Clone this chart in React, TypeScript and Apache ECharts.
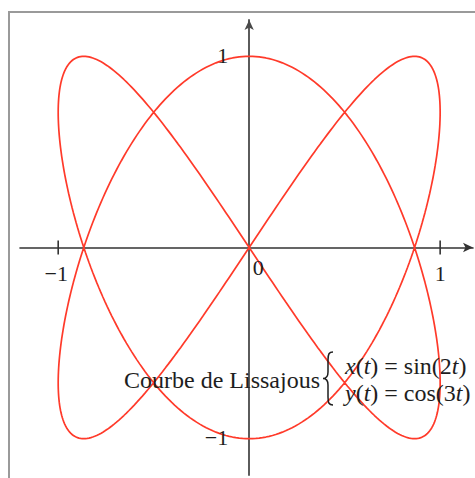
import React, { useEffect, useRef } from "react";
import * as echarts from "echarts";

// Lissajous curve parameters: x(t) = sin(2t), y(t) = cos(3t)
const xFrequency = 2;
const yFrequency = 3;
const sampleCount = 720;

// Axis ranges, tick marks and tick labels
const xRange = [-1.2, 1.172];
const yRange = [-1.19, 1.19];
const xTickValues = [-1, 1];
const xLabelValues = [-1, 0, 1];
const yLabelValues = [-1, 1];

// Annotation texts
const curveName = "Courbe de Lissajous";
const equationX = ["x", "sin", "2"];
const equationY = ["y", "cos", "3"];

const SERIF = "'Liberation Serif', 'DejaVu Serif', serif";
const CURVE_RED = "#ff3a2a";
const AXIS_COLOR = "#333333";
const TEXT_COLOR = "#1e1e1e";

const bracePath =
  "M10,0 C6,0 5,2 5,8 L5,20 C5,24 4,26.5 0,26.5 C4,26.5 5,29 5,33 L5,45 C5,51 6,53 10,53";
echarts.graphic.registerShape("brace", echarts.graphic.extendPath(bracePath, {}));

function buildCurve(): number[][] {
  const pts: number[][] = [];
  for (let i = 0; i <= sampleCount; i++) {
    const t = (2 * Math.PI * i) / sampleCount;
    pts.push([Math.sin(xFrequency * t), Math.cos(yFrequency * t)]);
  }
  return pts;
}

function minusSign(v: number): string {
  return v < 0 ? "\u2212" + Math.abs(v) : String(v);
}

function equationText(parts: string[]): string {
  const [v, fn, k] = parts;
  return `{i|${v}}{r|(}{i|t}{r|) = ${fn}(${k}}{i|t}{r|)}`;
}

export default function App() {
  const ref = useRef<HTMLDivElement>(null);

  useEffect(() => {
    if (!ref.current) return;
    const chart = echarts.init(ref.current, null, { renderer: "svg" });
    chart.setOption({
      animation: false,
      backgroundColor: "#ffffff",
      grid: {
        left: 20,
        right: 2,
        top: 20,
        bottom: 3,
        containLabel: false,
        outerBoundsMode: "none",
      },
      xAxis: {
        type: "value",
        min: xRange[0],
        max: xRange[1],
        splitLine: { show: false },
        axisLine: {
          onZero: true,
          symbol: ["none", "arrow"],
          symbolSize: [7, 10],
          lineStyle: { color: AXIS_COLOR, width: 1.6 },
        },
        axisTick: { show: false },
        axisLabel: { show: false },
      },
      yAxis: {
        type: "value",
        min: yRange[0],
        max: yRange[1],
        splitLine: { show: false },
        axisLine: {
          onZero: true,
          symbol: ["none", "arrow"],
          symbolSize: [7, 10],
          lineStyle: { color: "#4a4a4a", width: 1.8 },
        },
        axisTick: { show: false },
        axisLabel: { show: false },
      },
      series: [
        {
          type: "line",
          data: buildCurve(),
          showSymbol: false,
          smooth: false,
          clip: false,
          z: 5,
          lineStyle: { color: CURVE_RED, width: 1.7 },
        },
      ],
    });

    // Tick marks and tick labels placed through the cartesian scales
    const toPx = (x: number, y: number) =>
      chart.convertToPixel({ gridIndex: 0 }, [x, y]) as number[];
    const origin = toPx(0, 0);

    const tickMarks = xTickValues.map((v) => {
      const [px, py] = toPx(v, 0);
      return {
        type: "line",
        z: 4,
        shape: { x1: px, y1: py - 7, x2: px, y2: py + 7 },
        style: { stroke: AXIS_COLOR, lineWidth: 1.6 },
      };
    });

    const xLabels = xLabelValues.map((v) => {
      const [px, py] = toPx(v, 0);
      const isZero = v === 0;
      return {
        type: "text",
        z: 6,
        style: {
          text: minusSign(v),
          x: isZero ? px + 9 : px - (v < 0 ? 2 : 0),
          y: isZero ? py + 20 : py + 26,
          align: "center",
          textAlign: "center",
          verticalAlign: "middle",
          textVerticalAlign: "middle",
          fontFamily: SERIF,
          fontSize: 22,
          fill: TEXT_COLOR,
        },
      };
    });

    const yLabels = yLabelValues.map((v) => {
      const [, py] = toPx(0, v);
      return {
        type: "text",
        z: 6,
        style: {
          text: minusSign(v),
          x: origin[0] - 21,
          y: py - 1,
          align: "right",
          textAlign: "right",
          verticalAlign: "middle",
          textVerticalAlign: "middle",
          fontFamily: SERIF,
          fontSize: 22,
          fill: TEXT_COLOR,
        },
      };
    });

    const richStyles = {
      i: { fontFamily: SERIF, fontSize: 24, fontStyle: "italic", fill: TEXT_COLOR },
      r: { fontFamily: SERIF, fontSize: 24, fill: TEXT_COLOR },
    };

    chart.setOption({
      graphic: [
        {
          type: "rect",
          z: -10,
          shape: { x: 9, y: 12, width: 500, height: 500 },
          style: { fill: "none", stroke: "#9a9a9a", lineWidth: 2 },
        },
        ...tickMarks,
        ...xLabels,
        ...yLabels,
        {
          type: "text",
          z: 10,
          style: {
            text: curveName,
            x: 320,
            y: 380,
            align: "right",
            textAlign: "right",
            verticalAlign: "middle",
            textVerticalAlign: "middle",
            fontFamily: SERIF,
            fontSize: 24,
            fill: TEXT_COLOR,
          },
        },
        {
          type: "brace",
          z: 10,
          x: 323,
          y: 352,
          style: { fill: "none", stroke: TEXT_COLOR, lineWidth: 1.5 },
        },
        {
          type: "text",
          z: 10,
          style: {
            text: equationText(equationX),
            x: 345,
            y: 366,
            align: "left",
            textAlign: "left",
            verticalAlign: "middle",
            textVerticalAlign: "middle",
            rich: richStyles,
          },
        },
        {
          type: "text",
          z: 10,
          style: {
            text: equationText(equationY),
            x: 345,
            y: 393,
            align: "left",
            textAlign: "left",
            verticalAlign: "middle",
            textVerticalAlign: "middle",
            rich: richStyles,
          },
        },
      ],
    });
    return () => chart.dispose();
  }, []);

  return (
    <div
      ref={ref}
      style={{ position: "fixed", left: 0, top: 0, width: 475, height: 478 }}
    />
  );
}
